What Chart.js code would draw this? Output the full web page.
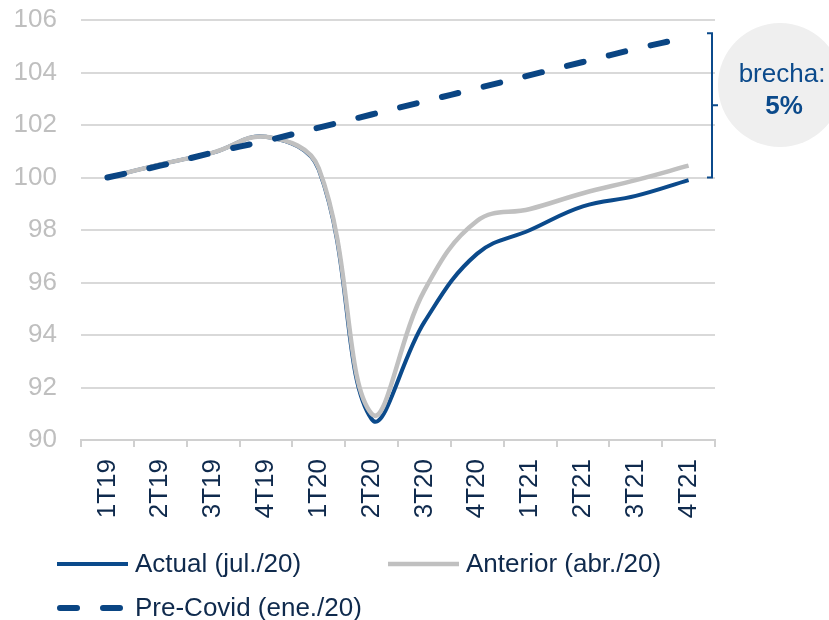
<!DOCTYPE html>
<html>
<head>
<meta charset="utf-8">
<script src="https://cdn.jsdelivr.net/npm/chart.js@4/dist/chart.umd.min.js"></script>
<style>
  html, body { margin: 0; padding: 0; background: #fff; }
</style>
</head>
<body>
<canvas id="gdpChart" width="829" height="620"></canvas>
<script>
const quarters = ['1T19', '2T19', '3T19', '4T19', '1T20', '2T20', '3T20', '4T20', '1T21', '2T21', '3T21', '4T21'];
const actual   = [100.0, 100.5, 100.95, 101.55, 100.3, 90.8, 94.5, 97.1, 98.0, 98.9, 99.3, 99.9];
const anterior = [100.0, 100.5, 100.95, 101.55, 100.35, 91.0, 95.7, 98.35, 98.8, 99.4, 99.9, 100.45];
const preCovid = [100.0, 100.45, 100.95, 101.4, 101.9, 102.4, 102.9, 103.4, 103.9, 104.4, 104.9, 105.35];
const yMin = 90, yMax = 106, yStep = 2;
const gapTop = 105.5, gapBottom = 100;
const gapLabel = ['brecha:', '5%'];

const NAVY = '#0b4a8b';
const GREY = '#c0c0c0';
const TEXT = '#0f2a4d';
const FONT = "'Liberation Sans', Arial, sans-serif";

// legend drawn by hand: two items on the first row, one on the second
const legendSlots = [
  { x: 57, y: 564 },
  { x: 388, y: 564 },
  { x: 57, y: 608 }
];

const customLegend = {
  id: 'customLegend',
  afterDraw(chart) {
    const ctx = chart.ctx;
    chart.data.datasets.forEach((ds, i) => {
      const s = legendSlots[i];
      ctx.save();
      ctx.strokeStyle = ds.borderColor;
      ctx.lineWidth = ds.borderWidth;
      ctx.lineCap = ds.borderDash ? 'round' : 'butt';
      ctx.setLineDash(ds.borderDash || []);
      ctx.beginPath();
      ctx.moveTo(s.x + (ds.borderDash ? 3 : 0), s.y);
      ctx.lineTo(s.x + 71, s.y);
      ctx.stroke();
      ctx.setLineDash([]);
      ctx.fillStyle = TEXT;
      ctx.font = '26px ' + FONT;
      ctx.textBaseline = 'middle';
      ctx.fillText(ds.label, s.x + 78, s.y + 1);
      ctx.restore();
    });
  }
};

const gapNote = {
  id: 'gapNote',
  afterDraw(chart) {
    const ctx = chart.ctx;
    const area = chart.chartArea;
    const y = chart.scales.y;
    const top = y.getPixelForValue(gapTop);
    const bot = y.getPixelForValue(gapBottom);
    const bx = area.right - 3;
    ctx.save();
    // bracket
    ctx.strokeStyle = NAVY;
    ctx.lineWidth = 2;
    ctx.beginPath();
    ctx.moveTo(bx - 5, top);
    ctx.lineTo(bx, top);
    ctx.lineTo(bx, bot);
    ctx.lineTo(bx - 5, bot);
    ctx.moveTo(bx, (top + bot) / 2);
    ctx.lineTo(bx + 6, (top + bot) / 2);
    ctx.stroke();
    // bubble
    const cx = area.right + 65, cy = area.top + 65;
    ctx.fillStyle = '#efefef';
    ctx.beginPath();
    ctx.arc(cx, cy, 62, 0, Math.PI * 2);
    ctx.fill();
    ctx.fillStyle = NAVY;
    ctx.textAlign = 'center';
    ctx.textBaseline = 'middle';
    ctx.font = '26px ' + FONT;
    ctx.fillText(gapLabel[0], cx + 2, cy - 10);
    ctx.font = 'bold 26px ' + FONT;
    ctx.fillText(gapLabel[1], cx + 4, cy + 22);
    ctx.restore();
  }
};

new Chart(document.getElementById('gdpChart'), {
  type: 'line',
  data: {
    labels: quarters,
    datasets: [
      {
        label: 'Actual (jul./20)',
        data: actual,
        borderColor: NAVY,
        borderWidth: 4,
        order: 2
      },
      {
        label: 'Anterior (abr./20)',
        data: anterior,
        borderColor: GREY,
        borderWidth: 4.5,
        order: 1
      },
      {
        label: 'Pre-Covid (ene./20)',
        data: preCovid,
        borderColor: '#0a4583',
        borderWidth: 6,
        borderDash: [17, 26],
        borderCapStyle: 'round',
        order: 0
      }
    ]
  },
  options: {
    responsive: false,
    devicePixelRatio: 1,
    animation: false,
    elements: {
      point: { radius: 0, hoverRadius: 0 },
      line: { tension: 0.4, fill: false }
    },
    layout: {
      padding: { top: 20, right: 114, bottom: 80, left: 0 }
    },
    plugins: {
      legend: { display: false },
      tooltip: { enabled: false }
    },
    scales: {
      x: {
        offset: true,
        grid: {
          offset: true,
          drawOnChartArea: false,
          drawTicks: true,
          tickLength: 7,
          color: '#d0d0d0',
          lineWidth: 2
        },
        border: { display: true, color: '#d0d0d0', width: 2 },
        ticks: {
          color: TEXT,
          font: { family: FONT, size: 26 },
          minRotation: 90,
          maxRotation: 90,
          padding: 12,
          autoSkip: false
        },
        afterFit(scale) {
          scale.height = 100;
          scale.paddingLeft = 0;
          scale.paddingRight = 0;
        }
      },
      y: {
        min: yMin,
        max: yMax,
        grid: {
          color: '#d9d9d9',
          lineWidth: 2,
          drawTicks: false
        },
        border: { display: false },
        ticks: {
          stepSize: yStep,
          color: '#bfbfbf',
          font: { family: FONT, size: 26 },
          padding: 24
        },
        afterFit(scale) {
          scale.width = 81;
          scale.paddingTop = 0;
          scale.paddingBottom = 0;
        }
      }
    }
  },
  plugins: [customLegend, gapNote]
});
</script>
</body>
</html>
